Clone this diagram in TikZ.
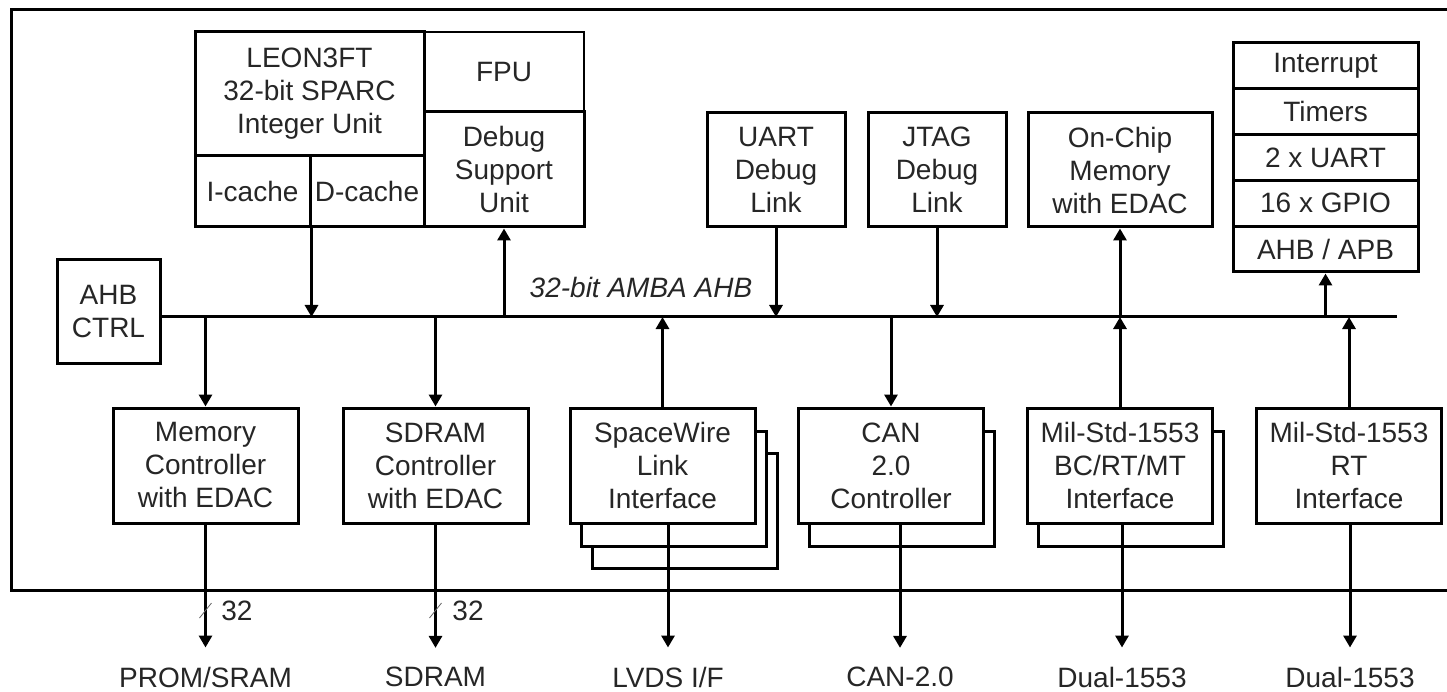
\documentclass[tikz,border=0pt]{standalone}
\usepackage{fontspec}
\setmainfont{Liberation Sans}
\usetikzlibrary{arrows.meta}

\begin{document}
\begin{tikzpicture}[x=1pt, y=-1pt, font=\fontsize{28}{33}\selectfont, text=black!85,
  cell/.style={draw=black, line width=3pt, fill=white, align=center, inner sep=0pt},
  blk/.style={cell, minimum width=185pt, minimum height=115pt},
  dbg/.style={cell, minimum width=138pt, minimum height=114pt},
  io/.style={inner xsep=0pt, inner ysep=19pt},
  wlbl/.style={inner sep=0pt},
  arr/.style={line width=3pt, -{Triangle[width=13pt,length=12pt]}}]
  \useasboundingbox (0,0) rectangle (1447,692);
  \draw[line width=3pt] (1452,10) -- (11,10) -- (11,590) -- (1452,590);
  \node[cell, minimum width=160pt, minimum height=80pt, line width=1.2pt] (fpu) at (504,72) {FPU};
  \node[cell, minimum width=160pt, minimum height=115pt] (dsu) at (504,169.5) {Debug\\Support\\Unit};
  \node[cell, minimum width=229pt, minimum height=124pt] (iu) at (309.5,94) {LEON3FT\\32-bit SPARC\\Integer Unit};
  \node[cell, minimum width=115pt, minimum height=71pt] (icache) at (252.5,191.5) {I-cache};
  \node[cell, minimum width=114pt, minimum height=71pt] (dcache) at (367,191.5) {D-cache};
  \node[cell, minimum width=103pt, minimum height=103pt] (ahb) at (108.5,311.5) {AHB\\CTRL};
  \coordinate (busend) at (1397,317);
  \draw[line width=3pt] (ahb.east |- busend) -- (busend);
  \node[font=\fontsize{28}{33}\selectfont\itshape] (buslbl) at (641,287) {32-bit AMBA AHB};
  \node[dbg] (uart) at (776,170) {UART\\Debug\\Link};
  \node[dbg] (jtag) at (937,170) {JTAG\\Debug\\Link};
  \node[cell, minimum width=184pt, minimum height=114pt] (ocm) at (1120,170) {On-Chip\\Memory\\with EDAC};
  \foreach \nm/\txt [count=\i from 0] in {irq/Interrupt, tmr/Timers, uarts/2 x UART, gpio/16 x GPIO, apb/{AHB / APB}}
    \node[cell, minimum width=185pt, minimum height=45.8pt] (\nm) at (1325.5, 65.9+45.8*\i) {\txt};
  \node[blk] (mc) at (205.5,465.5) {Memory\\Controller\\with EDAC};
  \node[blk] (sdc) at (435.5,465.5) {SDRAM\\Controller\\with EDAC};
  \node[blk] (spw3) at (685,510.5) {};
  \node[blk] (spw2) at (674,488.5) {};
  \node[blk] (spw) at (662.5,465.5) {SpaceWire\\Link\\Interface};
  \node[blk] (can2) at (902,488.5) {};
  \node[blk] (can) at (891,465.5) {CAN\\2.0\\Controller};
  \node[blk] (mil2) at (1131,488.5) {};
  \node[blk] (mil) at (1120,465.5) {Mil-Std-1553\\BC/RT/MT\\Interface};
  \node[blk] (rt) at (1349,465.5) {Mil-Std-1553\\RT\\Interface};
  \node[io] (prom) at (205.5,677) {PROM/SRAM};
  \node[io] (sdram) at (435.5,677) {SDRAM};
  \node[io] (lvds) at (668,677) {LVDS I/F};
  \node[io] (canio) at (900,677) {CAN-2.0};
  \node[io] (dual) at (1122,677) {Dual-1553};
  \node[io] (dualrt) at (1350,677) {Dual-1553};
  \draw[arr] (icache.south east) -- (icache.south east |- busend);
  \draw[arr] (dsu.south |- busend) -- (dsu.south);
  \draw[arr] (uart.south) -- (uart.south |- busend);
  \draw[arr] (jtag.south) -- (jtag.south |- busend);
  \draw[arr] (ocm.south |- busend) -- (ocm.south);
  \draw[arr] (apb.south |- busend) -- (apb.south);
  \draw[arr] (mc.north |- busend) -- (mc.north);
  \draw[arr] (sdc.north |- busend) -- (sdc.north);
  \draw[arr] (spw.north) -- (spw.north |- busend);
  \draw[arr] (can.north |- busend) -- (can.north);
  \draw[arr] (mil.north) -- (mil.north |- busend);
  \draw[arr] (rt.north) -- (rt.north |- busend);
  \draw[arr] (mc.south -| prom) -- (prom.north);
  \draw[arr] (sdc.south -| sdram) -- (sdram.north);
  \draw[arr] (spw.south -| lvds) -- (lvds.north);
  \draw[arr] (can.south -| canio) -- (canio.north);
  \draw[arr] (mil.south -| dual) -- (dual.north);
  \draw[arr] (rt.south -| dualrt) -- (dualrt.north);
  \node[wlbl] (wmc) at (237,611) {32};
  \node[wlbl] (wsdc) at (468,611) {32};
  \draw[line width=0.8pt, black!60] (prom |- wmc) ++(-6,7) -- ++(12,-15);
  \draw[line width=0.8pt, black!60] (sdram |- wsdc) ++(-6,7) -- ++(12,-15);
\end{tikzpicture}
\end{document}
